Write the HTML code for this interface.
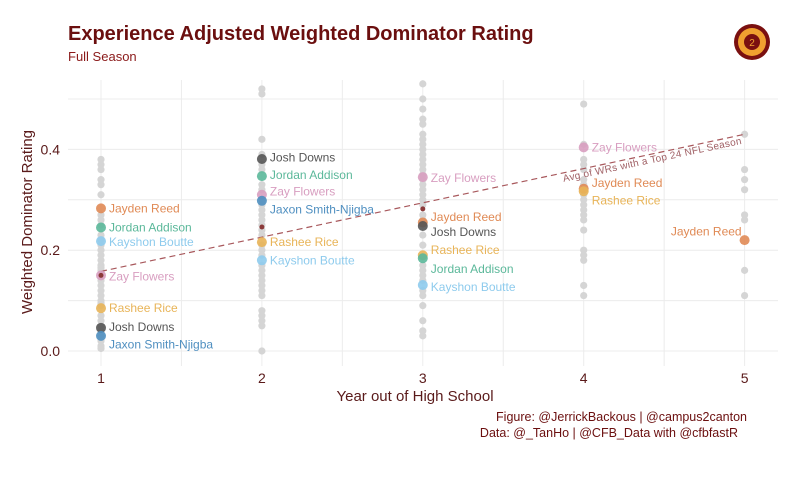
<!DOCTYPE html>
<html><head><meta charset="utf-8"><style>
body{margin:0;background:#fff;font-family:"Liberation Sans",sans-serif;}
svg text{font-family:"Liberation Sans",sans-serif;}
</style></head><body>
<svg id="c" width="805" height="475" xmlns="http://www.w3.org/2000/svg">
<text x="68" y="40" font-size="20" font-weight="bold" fill="#6b0f0f">Experience Adjusted Weighted Dominator Rating</text>
<text x="68" y="61" font-size="13" fill="#8b1a1a">Full Season</text>
<g><circle cx="752" cy="42" r="18" fill="#7a1010"/><circle cx="752" cy="42" r="14" fill="#f0a030"/><circle cx="752" cy="42" r="8" fill="#7a1010"/><text x="752" y="46" font-size="10" fill="#f0a030" text-anchor="middle">2</text></g>
<g id="grid"></g><g id="marks"></g>
<text x="415" y="401" font-size="15" fill="#5a1a1a" text-anchor="middle">Year out of High School</text>
<text transform="translate(32,222) rotate(-90)" font-size="15" fill="#5a1a1a" text-anchor="middle">Weighted Dominator Rating</text>
<text x="747" y="421" font-size="12.5" fill="#6b0f0f" text-anchor="end">Figure: @JerrickBackous | @campus2canton</text>
<text x="738" y="437" font-size="12.5" fill="#6b0f0f" text-anchor="end">Data: @_TanHo | @CFB_Data with @cfbfastR</text>
</svg>
<script>
const yTicks=[0,0.2,0.4];
const yTickLabels=["0.0","0.2","0.4"];
const xTicks=[1,2,3,4,5];
const gray1=[0.38,0.37,0.36,0.34,0.33,0.31,0.27,0.26,0.25,0.23,0.22,0.21,0.2,0.19,0.18,0.17,0.165,0.16,0.14,0.13,0.12,0.11,0.1,0.095,0.09,0.07,0.06,0.05,0.04,0.03,0.02,0.01,0.005];
const gray2=[0.52,0.51,0.42,0.39,0.37,0.36,0.33,0.32,0.3,0.29,0.28,0.27,0.26,0.25,0.24,0.23,0.21,0.2,0.19,0.17,0.16,0.15,0.14,0.13,0.12,0.11,0.08,0.07,0.06,0.05,0.0];
const gray3=[0.53,0.5,0.48,0.46,0.45,0.43,0.42,0.41,0.4,0.39,0.38,0.37,0.36,0.35,0.34,0.33,0.32,0.31,0.3,0.29,0.27,0.26,0.23,0.21,0.17,0.16,0.15,0.14,0.12,0.11,0.09,0.06,0.04,0.03];
const gray4=[0.49,0.41,0.38,0.37,0.36,0.34,0.33,0.31,0.3,0.29,0.28,0.27,0.26,0.24,0.2,0.19,0.18,0.13,0.11];
const gray5=[0.43,0.36,0.34,0.32,0.27,0.26,0.16,0.11];
const players=["Jayden Reed","Jordan Addison","Kayshon Boutte","Zay Flowers","Rashee Rice","Josh Downs","Jaxon Smith-Njigba"];
const colors=["#e08a55","#5bb89a","#8ecbed","#d89ec0","#e8b458","#555555","#4f8fc0"];
const hlYear=[1,1,1,1,1,1,1,2,2,2,2,2,2,3,3,3,3,3,3,4,4,4,5];
const hlPlayer=[0,1,2,3,4,5,6,5,1,3,6,4,2,3,0,5,4,1,2,3,0,4,0];
const hlValue=[0.283,0.245,0.218,0.150,0.085,0.046,0.030,0.381,0.347,0.31,0.298,0.216,0.180,0.345,0.255,0.248,0.19,0.184,0.131,0.404,0.322,0.317,0.220];
const hlLabelValue=[0.283,0.245,0.216,0.148,0.085,0.048,0.013,0.384,0.349,0.316,0.281,0.216,0.18,0.343,0.266,0.236,0.2,0.163,0.127,0.404,0.333,0.299,0.237];
const avgYear=[1,2,3];
const avgValue=[0.150,0.246,0.282];
const trendStart=0.158, trendEnd=0.43;
const X=v=>101+(v-1)*160.9, Y=v=>351-v*504;
const NS="http://www.w3.org/2000/svg";
function mk(t,a,p){const e=document.createElementNS(NS,t);for(const k in a)e.setAttribute(k,a[k]);p.appendChild(e);return e;}
const g=document.getElementById('grid'),m=document.getElementById('marks');
for(let v=0;v<=0.5001;v+=0.1){const l=mk('line',{x1:68,x2:778,y1:Y(v),y2:Y(v),stroke:'#ececec','stroke-width':1},g);

}
for(let v=1;v<=5;v+=0.5){const l=mk('line',{x1:X(v),x2:X(v),y1:80,y2:366,stroke:'#ececec','stroke-width':1},g);

}
yTicks.forEach((v,i)=>{const t=mk('text',{x:60,y:Y(v)+5,'font-size':14,fill:'#5a1a1a','text-anchor':'end'},g);t.textContent=yTickLabels[i];

});
xTicks.forEach(v=>{const t=mk('text',{x:X(v),y:383,'font-size':14,fill:'#5a1a1a','text-anchor':'middle'},g);t.textContent=v;

});
[gray1,gray2,gray3,gray4,gray5].forEach((arr,i)=>arr.forEach(v=>{const c=mk('circle',{cx:X(i+1),cy:Y(v),r:3.6,fill:'#d5d5d5'},m);

}));
const tl=mk('line',{x1:X(1),y1:Y(trendStart),x2:X(5),y2:Y(trendEnd),stroke:'#a8585c','stroke-width':1.2,'stroke-dasharray':'6,4'},m);


const ang=Math.atan2(Y(trendEnd)-Y(trendStart),X(5)-X(1))*180/Math.PI;
const lv=4.43, lyv=trendStart+(trendEnd-trendStart)*(lv-1)/4;
const at=mk('text',{transform:`translate(${X(lv)},${Y(lyv)+9}) rotate(${ang})`,'font-size':10,fill:'#a06065','text-anchor':'middle','letter-spacing':'0.3'},m);
at.textContent='Avg of WRs with a Top 24 NFL Season';


hlValue.forEach((v,i)=>{const col=colors[hlPlayer[i]];
const c=mk('circle',{cx:X(hlYear[i]),cy:Y(v),r:5,fill:col,opacity:0.9},m);


const t=mk('text',{x:X(hlYear[i])+(hlYear[i]==5?-3:8),y:Y(hlLabelValue[i])+4,'font-size':12,fill:col,'text-anchor':hlYear[i]==5?'end':'start'},m);
t.textContent=players[hlPlayer[i]];

});
avgValue.forEach((v,i)=>{const c=mk('circle',{cx:X(avgYear[i]),cy:Y(v),r:2.5,fill:'#8b3a3a'},m);

});
</script>
</body></html>
